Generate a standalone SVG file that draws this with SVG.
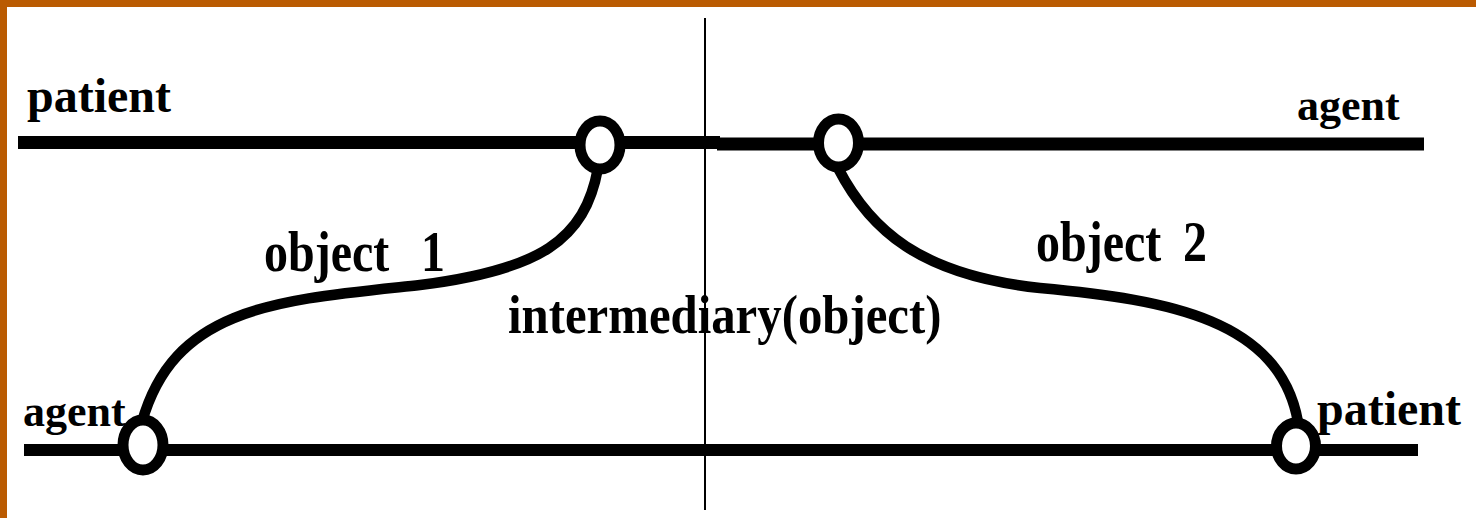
<svg xmlns="http://www.w3.org/2000/svg" width="1476" height="518" viewBox="0 0 1476 518">
<style>
.lbl{font-family:"Liberation Serif","Times New Roman",serif;font-weight:bold;fill:#000}
.axis{stroke:#000;stroke-width:12;fill:none}
.conn{stroke:#000;stroke-width:10.5;fill:none}
.node{stroke:#000;stroke-width:11;fill:#fff}
</style>
<rect x="0" y="0" width="1476" height="518" fill="#fff"/>
<rect x="0" y="0" width="1476" height="7" fill="#BA5B02"/>
<rect x="0" y="0" width="7" height="518" fill="#BA5B02"/>
<g id="divider"><line x1="705" y1="18" x2="705" y2="510" stroke="#000" stroke-width="2"/></g>
<g id="axis-top">
<line class="axis" x1="18" y1="142.5" x2="720" y2="142.5" style="stroke-width:13"/>
<line class="axis" x1="717" y1="144" x2="1424" y2="144" style="stroke-width:13"/>
<text class="lbl" x="27" y="112" font-size="48">patient</text>
<text class="lbl" x="1297" y="120" font-size="44">agent</text>
</g>
<g id="axis-bottom">
<line class="axis" x1="24" y1="450" x2="1418" y2="450"/>
<text class="lbl" x="23" y="426" font-size="44">agent</text>
<text class="lbl" x="1317" y="425" font-size="48">patient</text>
</g>
<g id="connectors">
<path class="conn" d="M 598 168 C 585 240, 540 270, 420 285 C 280 300, 175 305, 142 422"/>
<path class="conn" d="M 838 168 C 870 230, 920 275, 1040 288 C 1170 300, 1280 320, 1298 422"/>
</g>
<g id="label-object1"><text class="lbl" transform="translate(264,271) scale(1,1.2)" font-size="48">object<tspan x="157">1</tspan></text></g>
<g id="label-object2"><text class="lbl" transform="translate(1036,261) scale(1,1.2)" font-size="48">object<tspan x="147">2</tspan></text></g>
<g id="label-intermediary"><text class="lbl" transform="translate(508,333) scale(1,1.12)" font-size="48.8">intermediary(object)</text></g>
<g id="node-top-left"><ellipse class="node" cx="600" cy="145" rx="20" ry="24"/></g>
<g id="node-top-right"><ellipse class="node" cx="838.5" cy="143" rx="20" ry="24"/></g>
<g id="node-bottom-left"><ellipse class="node" cx="143" cy="445" rx="20" ry="25"/></g>
<g id="node-bottom-right"><ellipse class="node" cx="1296" cy="446" rx="19.5" ry="23"/></g>
</svg>
